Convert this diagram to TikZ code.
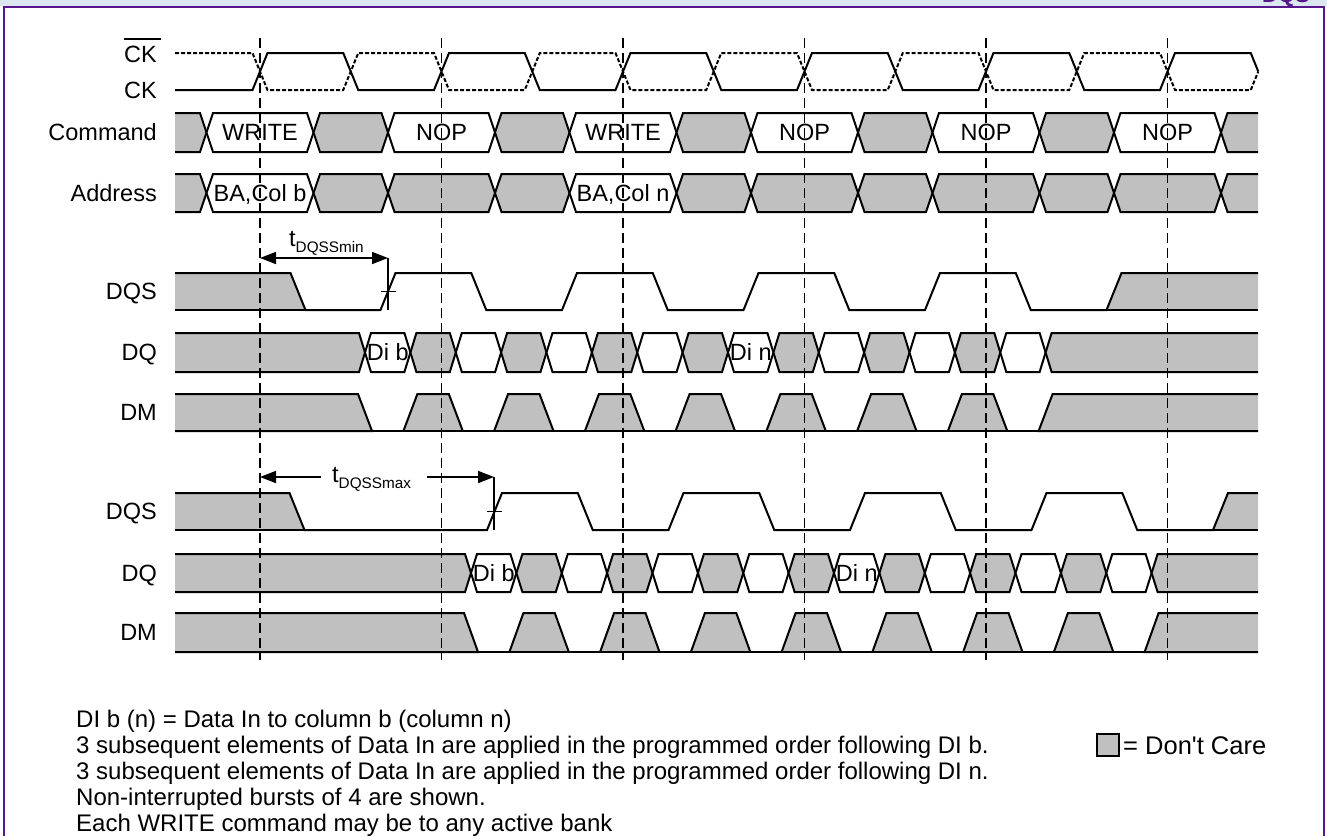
\documentclass[tikz,border=0pt]{standalone}
\usepackage{fontspec}
\setmainfont{Liberation Sans}
\usetikzlibrary{arrows.meta}
\definecolor{dontcare}{RGB}{192,192,192}
\definecolor{framepurple}{RGB}{88,22,140}
\definecolor{bandblue}{RGB}{218,231,240}
\tikzset{
  wire/.style={draw=black, line width=2pt},
  busgray/.style={wire, fill=dontcare},
  buswhite/.style={wire, fill=white},
  clkbar/.style={dash pattern=on 4pt off 2pt},
  clkedge/.style={draw=black, line width=1.9pt, dash pattern=on 10pt off 5pt},
  dimline/.style={draw=black, line width=1.7pt},
  dimtip/.tip={Triangle[length=16pt,width=12pt]},
  sname/.style={anchor=base east, inner sep=0pt, font=\fontsize{23.5}{28}\selectfont},
  cell/.style={anchor=base, inner sep=0pt, font=\fontsize{23.5}{28}\selectfont},
  tlabel/.style={anchor=base west, inner sep=0pt, font=\fontsize{23.5}{28}\selectfont},
  note/.style={anchor=base west, inner sep=0pt, font=\fontsize{24}{28}\selectfont},
}
\begin{document}
\begin{tikzpicture}[x=1pt,y=-1pt]
\useasboundingbox (0,0) rectangle (1327,836);
\fill[white] (0,0) rectangle (1327,836);
% Frame
\fill[bandblue] (0,0) rectangle (1327,6);
\node[anchor=base east, inner sep=0pt, text=framepurple, font=\bfseries\fontsize{22}{26}\selectfont] (hdr) at (1310,2.5) {DQS};
\draw[framepurple, line width=2pt] (4,836) -- (4,6.5) -- (1324,6.5) -- (1324,836);
% Drawing signal names
\node[sname] (ckbar) at (157,62.4) {CK};
\draw[line width=1.5pt] ([yshift=7pt]ckbar.north west) -- ([xshift=4pt,yshift=7pt]ckbar.north east);
\node[sname] (ck) at (157,98.4) {CK};
\node[sname] (command) at (157,140.9) {Command};
\node[sname] (address) at (157,201.4) {Address};
\node[sname] (dqsmin) at (157,299.9) {DQS};
\node[sname] (dqmin) at (157,360.9) {DQ};
\node[sname] (dmmin) at (157,420.9) {DM};
\node[sname] (dqsmax) at (157,519.9) {DQS};
\node[sname] (dqmax) at (157,581.4) {DQ};
\node[sname] (dmmax) at (157,640.9) {DM};
% Line 1: CK and CK#
\draw[wire] (175,90) -- (252.5,90) -- (267.5,53) -- (343.25,53) -- (358.25,90) -- (434,90) -- (449,53) -- (524.75,53) -- (539.75,90) -- (615.5,90) -- (630.5,53) -- (706.25,53) -- (721.25,90) -- (797,90) -- (812,53) -- (887.75,53) -- (902.75,90) -- (978.5,90) -- (993.5,53) -- (1069.25,53) -- (1084.25,90) -- (1160,90) -- (1175,53) -- (1250.75,53) -- (1258.25,71.5);
\draw[wire, clkbar] (175,53) -- (252.5,53) -- (267.5,90) -- (343.25,90) -- (358.25,53) -- (434,53) -- (449,90) -- (524.75,90) -- (539.75,53) -- (615.5,53) -- (630.5,90) -- (706.25,90) -- (721.25,53) -- (797,53) -- (812,90) -- (887.75,90) -- (902.75,53) -- (978.5,53) -- (993.5,90) -- (1069.25,90) -- (1084.25,53) -- (1160,53) -- (1175,90) -- (1250.75,90) -- (1258.25,71.5);
% Line 2: Command
\filldraw[busgray] (175,113) -- (200,113) -- (206.5,132.5) -- (200,152) -- (175,152);
\filldraw[buswhite] (206.5,132.5) -- (213,113) -- (307,113) -- (313.5,132.5) -- (307,152) -- (213,152) -- cycle;
\filldraw[busgray] (313.5,132.5) -- (320,113) -- (381.5,113) -- (388,132.5) -- (381.5,152) -- (320,152) -- cycle;
\filldraw[buswhite] (388,132.5) -- (394.5,113) -- (488.5,113) -- (495,132.5) -- (488.5,152) -- (394.5,152) -- cycle;
\filldraw[busgray] (495,132.5) -- (501.5,113) -- (563,113) -- (569.5,132.5) -- (563,152) -- (501.5,152) -- cycle;
\filldraw[buswhite] (569.5,132.5) -- (576,113) -- (670,113) -- (676.5,132.5) -- (670,152) -- (576,152) -- cycle;
\filldraw[busgray] (676.5,132.5) -- (683,113) -- (744.5,113) -- (751,132.5) -- (744.5,152) -- (683,152) -- cycle;
\filldraw[buswhite] (751,132.5) -- (757.5,113) -- (851.5,113) -- (858,132.5) -- (851.5,152) -- (757.5,152) -- cycle;
\filldraw[busgray] (858,132.5) -- (864.5,113) -- (926,113) -- (932.5,132.5) -- (926,152) -- (864.5,152) -- cycle;
\filldraw[buswhite] (932.5,132.5) -- (939,113) -- (1033,113) -- (1039.5,132.5) -- (1033,152) -- (939,152) -- cycle;
\filldraw[busgray] (1039.5,132.5) -- (1046,113) -- (1107.5,113) -- (1114,132.5) -- (1107.5,152) -- (1046,152) -- cycle;
\filldraw[buswhite] (1114,132.5) -- (1120.5,113) -- (1214.5,113) -- (1221,132.5) -- (1214.5,152) -- (1120.5,152) -- cycle;
\filldraw[busgray] (1258,113) -- (1227.5,113) -- (1221,132.5) -- (1227.5,152) -- (1258,152);
\node[cell] (writeb) at (260,140.9) {WRITE};
\node[cell] (nopa) at (441.5,140.9) {NOP};
\node[cell] (writen) at (623,140.9) {WRITE};
\node[cell] (nopb) at (804.5,140.9) {NOP};
\node[cell] (nopc) at (986,140.9) {NOP};
\node[cell] (nopd) at (1167.5,140.9) {NOP};
% Line 3: Address
\filldraw[busgray] (175,174) -- (200,174) -- (206.5,193) -- (200,212) -- (175,212);
\filldraw[buswhite] (206.5,193) -- (213,174) -- (307,174) -- (313.5,193) -- (307,212) -- (213,212) -- cycle;
\filldraw[busgray] (313.5,193) -- (320,174) -- (381.5,174) -- (388,193) -- (381.5,212) -- (320,212) -- cycle;
\filldraw[busgray] (388,193) -- (394.5,174) -- (488.5,174) -- (495,193) -- (488.5,212) -- (394.5,212) -- cycle;
\filldraw[busgray] (495,193) -- (501.5,174) -- (563,174) -- (569.5,193) -- (563,212) -- (501.5,212) -- cycle;
\filldraw[buswhite] (569.5,193) -- (576,174) -- (670,174) -- (676.5,193) -- (670,212) -- (576,212) -- cycle;
\filldraw[busgray] (676.5,193) -- (683,174) -- (744.5,174) -- (751,193) -- (744.5,212) -- (683,212) -- cycle;
\filldraw[busgray] (751,193) -- (757.5,174) -- (851.5,174) -- (858,193) -- (851.5,212) -- (757.5,212) -- cycle;
\filldraw[busgray] (858,193) -- (864.5,174) -- (926,174) -- (932.5,193) -- (926,212) -- (864.5,212) -- cycle;
\filldraw[busgray] (932.5,193) -- (939,174) -- (1033,174) -- (1039.5,193) -- (1033,212) -- (939,212) -- cycle;
\filldraw[busgray] (1039.5,193) -- (1046,174) -- (1107.5,174) -- (1114,193) -- (1107.5,212) -- (1046,212) -- cycle;
\filldraw[busgray] (1114,193) -- (1120.5,174) -- (1214.5,174) -- (1221,193) -- (1214.5,212) -- (1120.5,212) -- cycle;
\filldraw[busgray] (1258,174) -- (1227.5,174) -- (1221,193) -- (1227.5,212) -- (1258,212);
\node[cell] (colb) at (260,201.4) {BA,Col b};
\node[cell] (coln) at (623,201.4) {BA,Col n};
% Line 4: DQS with tDQSSmin
\fill[dontcare] (175,273) -- (290.5,273) -- (305.5,310) -- (175,310) -- cycle;
\fill[dontcare] (1106.5,310) -- (1121.5,273) -- (1258,273) -- (1258,310) -- cycle;
\draw[wire] (175,273) -- (290.5,273) -- (305.5,310) -- (380.5,310) -- (395.5,273) -- (471.25,273) -- (486.25,310) -- (562,310) -- (577,273) -- (652.75,273) -- (667.75,310) -- (743.5,310) -- (758.5,273) -- (834.25,273) -- (849.25,310) -- (925,310) -- (940,273) -- (1015.75,273) -- (1030.75,310) -- (1106.5,310) -- (1121.5,273) -- (1258,273);
\draw[wire] (175,310) -- (305.5,310);
\draw[wire] (1106.5,310) -- (1258,310);
\coordinate (minl) at (260,258);
\coordinate (minr) at (388,258);
\coordinate (minfoot) at (388,310);
\draw[dimline, dimtip-dimtip] (minl) -- (minr);
\draw[dimline] (minr) -- (minfoot);
\draw[dimline] (381,291.5) -- (396,291.5);
\node[tlabel] (tmin) at (289,246.7) {t\raisebox{-6pt}{\fontsize{15.3}{18}\selectfont DQSSmin}};
% Line 5: DQ with tDQSSmin
\filldraw[busgray] (175,333) -- (359,333) -- (365,352.5) -- (359,372) -- (175,372);
\filldraw[buswhite] (365,352.5) -- (371,333) -- (404.4,333) -- (410.4,352.5) -- (404.4,372) -- (371,372) -- cycle;
\filldraw[busgray] (410.4,352.5) -- (416.4,333) -- (449.8,333) -- (455.8,352.5) -- (449.8,372) -- (416.4,372) -- cycle;
\filldraw[buswhite] (455.8,352.5) -- (461.8,333) -- (495.1,333) -- (501.1,352.5) -- (495.1,372) -- (461.8,372) -- cycle;
\filldraw[busgray] (501.1,352.5) -- (507.1,333) -- (540.5,333) -- (546.5,352.5) -- (540.5,372) -- (507.1,372) -- cycle;
\filldraw[buswhite] (546.5,352.5) -- (552.5,333) -- (585.9,333) -- (591.9,352.5) -- (585.9,372) -- (552.5,372) -- cycle;
\filldraw[busgray] (591.9,352.5) -- (597.9,333) -- (631.3,333) -- (637.3,352.5) -- (631.3,372) -- (597.9,372) -- cycle;
\filldraw[buswhite] (637.3,352.5) -- (643.3,333) -- (676.6,333) -- (682.6,352.5) -- (676.6,372) -- (643.3,372) -- cycle;
\filldraw[busgray] (682.6,352.5) -- (688.6,333) -- (722,333) -- (728,352.5) -- (722,372) -- (688.6,372) -- cycle;
\filldraw[buswhite] (728,352.5) -- (734,333) -- (767.4,333) -- (773.4,352.5) -- (767.4,372) -- (734,372) -- cycle;
\filldraw[busgray] (773.4,352.5) -- (779.4,333) -- (812.8,333) -- (818.8,352.5) -- (812.8,372) -- (779.4,372) -- cycle;
\filldraw[buswhite] (818.8,352.5) -- (824.8,333) -- (858.1,333) -- (864.1,352.5) -- (858.1,372) -- (824.8,372) -- cycle;
\filldraw[busgray] (864.1,352.5) -- (870.1,333) -- (903.5,333) -- (909.5,352.5) -- (903.5,372) -- (870.1,372) -- cycle;
\filldraw[buswhite] (909.5,352.5) -- (915.5,333) -- (948.9,333) -- (954.9,352.5) -- (948.9,372) -- (915.5,372) -- cycle;
\filldraw[busgray] (954.9,352.5) -- (960.9,333) -- (994.3,333) -- (1000.3,352.5) -- (994.3,372) -- (960.9,372) -- cycle;
\filldraw[buswhite] (1000.3,352.5) -- (1006.3,333) -- (1039.6,333) -- (1045.6,352.5) -- (1039.6,372) -- (1006.3,372) -- cycle;
\filldraw[busgray] (1258,333) -- (1051.6,333) -- (1045.6,352.5) -- (1051.6,372) -- (1258,372);
\node[cell] (dibmin) at (387.7,360.9) {Di b};
\node[cell] (dinmin) at (750.7,360.9) {Di n};
% Line 6: DM with tDQSSmin
\filldraw[busgray] (175,394) -- (358,394) -- (372,431) -- (175,431);
\filldraw[busgray] (403.4,431) -- (417.4,394) -- (448.8,394) -- (462.8,431);
\filldraw[busgray] (494.1,431) -- (508.1,394) -- (539.5,394) -- (553.5,431);
\filldraw[busgray] (584.9,431) -- (598.9,394) -- (630.3,394) -- (644.3,431);
\filldraw[busgray] (675.6,431) -- (689.6,394) -- (721,394) -- (735,431);
\filldraw[busgray] (766.4,431) -- (780.4,394) -- (811.8,394) -- (825.8,431);
\filldraw[busgray] (857.1,431) -- (871.1,394) -- (902.5,394) -- (916.5,431);
\filldraw[busgray] (947.9,431) -- (961.9,394) -- (993.3,394) -- (1007.3,431);
\filldraw[busgray] (1258,394) -- (1052.6,394) -- (1038.6,431) -- (1258,431);
\draw[wire] (175,431) -- (1258,431);
% Line 7: DQS with tDQSSmax
\fill[dontcare] (175,493) -- (289.5,493) -- (304.5,530) -- (175,530) -- cycle;
\fill[dontcare] (1213,530) -- (1228,493) -- (1258,493) -- (1258,530) -- cycle;
\draw[wire] (175,493) -- (289.5,493) -- (304.5,530) -- (487,530) -- (502,493) -- (577.75,493) -- (592.75,530) -- (668.5,530) -- (683.5,493) -- (759.25,493) -- (774.25,530) -- (850,530) -- (865,493) -- (940.75,493) -- (955.75,530) -- (1031.5,530) -- (1046.5,493) -- (1122.25,493) -- (1137.25,530) -- (1213,530) -- (1228,493) -- (1258,493);
\draw[wire] (175,530) -- (304.5,530);
\draw[wire] (1213,530) -- (1258,530);
\coordinate (maxl) at (260,477);
\coordinate (maxr) at (494,477);
\coordinate (maxgapl) at (321,477);
\coordinate (maxgapr) at (427,477);
\coordinate (maxfoot) at (494,530);
\draw[dimline, -dimtip] (maxgapl) -- (maxl);
\draw[dimline, -dimtip] (maxgapr) -- (maxr);
\draw[dimline] (maxr) -- (maxfoot);
\draw[dimline] (487,511.5) -- (502,511.5);
\node[tlabel] (tmax) at (332,482) {t\raisebox{-6pt}{\fontsize{15.3}{18}\selectfont DQSSmax}};
% Line 8: DQ with tDQSSmax
\filldraw[busgray] (175,554) -- (465,554) -- (471,573) -- (465,592) -- (175,592);
\filldraw[buswhite] (471,573) -- (477,554) -- (510.4,554) -- (516.4,573) -- (510.4,592) -- (477,592) -- cycle;
\filldraw[busgray] (516.4,573) -- (522.4,554) -- (555.8,554) -- (561.8,573) -- (555.8,592) -- (522.4,592) -- cycle;
\filldraw[buswhite] (561.8,573) -- (567.8,554) -- (601.1,554) -- (607.1,573) -- (601.1,592) -- (567.8,592) -- cycle;
\filldraw[busgray] (607.1,573) -- (613.1,554) -- (646.5,554) -- (652.5,573) -- (646.5,592) -- (613.1,592) -- cycle;
\filldraw[buswhite] (652.5,573) -- (658.5,554) -- (691.9,554) -- (697.9,573) -- (691.9,592) -- (658.5,592) -- cycle;
\filldraw[busgray] (697.9,573) -- (703.9,554) -- (737.3,554) -- (743.3,573) -- (737.3,592) -- (703.9,592) -- cycle;
\filldraw[buswhite] (743.3,573) -- (749.3,554) -- (782.6,554) -- (788.6,573) -- (782.6,592) -- (749.3,592) -- cycle;
\filldraw[busgray] (788.6,573) -- (794.6,554) -- (828,554) -- (834,573) -- (828,592) -- (794.6,592) -- cycle;
\filldraw[buswhite] (834,573) -- (840,554) -- (873.4,554) -- (879.4,573) -- (873.4,592) -- (840,592) -- cycle;
\filldraw[busgray] (879.4,573) -- (885.4,554) -- (918.8,554) -- (924.8,573) -- (918.8,592) -- (885.4,592) -- cycle;
\filldraw[buswhite] (924.8,573) -- (930.8,554) -- (964.1,554) -- (970.1,573) -- (964.1,592) -- (930.8,592) -- cycle;
\filldraw[busgray] (970.1,573) -- (976.1,554) -- (1009.5,554) -- (1015.5,573) -- (1009.5,592) -- (976.1,592) -- cycle;
\filldraw[buswhite] (1015.5,573) -- (1021.5,554) -- (1054.9,554) -- (1060.9,573) -- (1054.9,592) -- (1021.5,592) -- cycle;
\filldraw[busgray] (1060.9,573) -- (1066.9,554) -- (1100.3,554) -- (1106.3,573) -- (1100.3,592) -- (1066.9,592) -- cycle;
\filldraw[buswhite] (1106.3,573) -- (1112.3,554) -- (1145.6,554) -- (1151.6,573) -- (1145.6,592) -- (1112.3,592) -- cycle;
\filldraw[busgray] (1258,554) -- (1157.6,554) -- (1151.6,573) -- (1157.6,592) -- (1258,592);
\node[cell] (dibmax) at (493.7,581.4) {Di b};
\node[cell] (dinmax) at (856.7,581.4) {Di n};
% Line 9: DM with tDQSSmax
\filldraw[busgray] (175,613) -- (464,613) -- (478,652) -- (175,652);
\filldraw[busgray] (509.4,652) -- (523.4,613) -- (554.8,613) -- (568.8,652);
\filldraw[busgray] (600.1,652) -- (614.1,613) -- (645.5,613) -- (659.5,652);
\filldraw[busgray] (690.9,652) -- (704.9,613) -- (736.3,613) -- (750.3,652);
\filldraw[busgray] (781.6,652) -- (795.6,613) -- (827,613) -- (841,652);
\filldraw[busgray] (872.4,652) -- (886.4,613) -- (917.8,613) -- (931.8,652);
\filldraw[busgray] (963.1,652) -- (977.1,613) -- (1008.5,613) -- (1022.5,652);
\filldraw[busgray] (1053.9,652) -- (1067.9,613) -- (1099.3,613) -- (1113.3,652);
\filldraw[busgray] (1258,613) -- (1158.6,613) -- (1144.6,652) -- (1258,652);
\draw[wire] (175,652) -- (1258,652);
% Done with signals; drawing clock edge markers
\draw[clkedge] (260,38) -- (260,660);
\draw[clkedge] (441.5,38) -- (441.5,660);
\draw[clkedge] (623,38) -- (623,660);
\draw[clkedge] (804.5,38) -- (804.5,660);
\draw[clkedge] (986,38) -- (986,660);
\draw[clkedge] (1167.5,38) -- (1167.5,660);
% Notes and legend
\node[note] (notea) at (76,727) {DI b (n) = Data In to column b (column n)};
\node[note] (noteb) at (76,753) {3 subsequent elements of Data In are applied in the programmed order following DI b.};
\node[note] (notec) at (76,779) {3 subsequent elements of Data In are applied in the programmed order following DI n.};
\node[note] (noted) at (76,805) {Non-interrupted bursts of 4 are shown.};
\node[note] (notee) at (76,831) {Each WRITE command may be to any active bank};
\filldraw[busgray, line width=1.4pt] (1097,734) rectangle (1119,756);
\node[note, font=\fontsize{25.5}{30}\selectfont] (dontcarekey) at (1123,754) {= Don\textquotesingle t Care};
\end{tikzpicture}
\end{document}
